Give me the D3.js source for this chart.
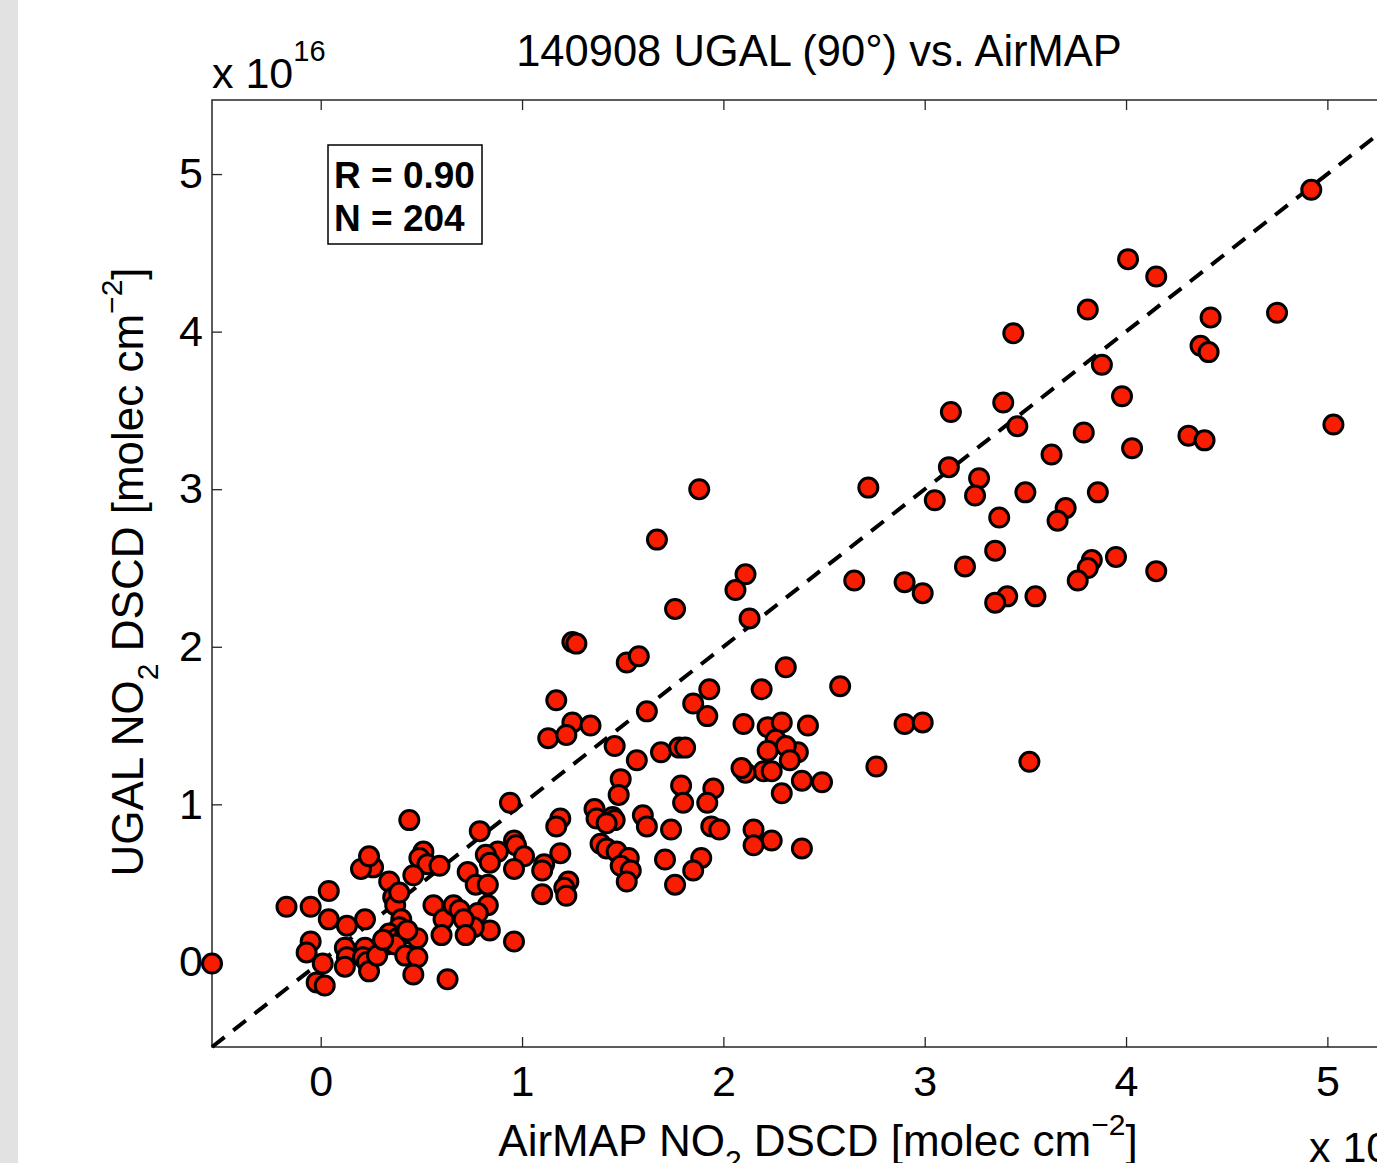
<!DOCTYPE html>
<html>

<head>
    <meta charset='utf-8'>
</head>
<style>
    body { margin: 0; background: #fff; }
    text { font-family: 'Liberation Sans', Arial, Helvetica, sans-serif; fill: #000; }
    .dot { fill: #f81c00; stroke: #000; stroke-width: 3px; }
    .axis line { stroke: #262626; stroke-width: 1.3px; }
    .axis text { font-size: 43px; }
</style>

<body>
    <div id='chart'></div>
    <script src="https://d3js.org/d3.v7.min.js"></script>
    <script>
        // values in units of 1e16 molec cm^-2
        var airmap = [4.92, 4.01, 4.15, 3.81, 4.75, 4.42, 3.44, 4.37, 4.41, 3.88,
            3.98, 3.39, 3.13, 3.46, 3.79, 5.03, 4.31, 4.39, 4.03, 3.63,
            3.12, 3.27, 2.72, 3.50, 3.25, 3.86, 3.05, 3.70, 3.66, 3.37,
            1.88, 3.35, 3.95, 3.83, 3.81, 3.76, 3.20, 4.15, 2.65, 2.90,
            2.99, 3.41, 3.35, 3.55, 1.67, 2.11, 2.06, 2.13, 1.76, 1.25,
            1.27, 1.52, 1.58, 2.31, 2.58, 2.19, 1.17, 1.93, 1.85, 1.62,
            1.92, 1.25, 1.34, 1.13, 1.22, 2.10, 2.22, 2.29, 2.42, 2.90,
            2.99, 1.46, 1.69, 1.78, 1.81, 1.57, 2.26, 2.22, 2.37, 2.31,
            2.20, 2.33, 2.11, 2.09, 2.24, 2.76, 3.52, 2.39, 2.49, 1.49,
            1.79, 2.29, 1.95, 1.80, 1.92, 0.94, 1.48, 1.36, 1.37, 1.45,
            1.60, 1.46, 1.62, 1.42, 1.74, 1.94, 1.98, 2.15, 2.24, 2.15,
            2.39, 1.39, 1.42, 1.47, 1.71, 1.89, 1.85, 1.53, 1.49, 1.54,
            1.52, 1.76, 1.19, 1.17, 1.19, 1.11, 1.10, 1.23, 1.21, 1.22,
            1.10, 0.96, 0.97, 0.88, 1.01, 0.79, 0.82, 0.84, 0.96, 0.73,
            0.77, 0.83, 0.83, 0.78, 0.84, 0.76, 0.96, 0.44, 0.51, 0.49,
            0.53, 0.59, 0.46, 0.34, 0.26, 0.20, 0.24, 0.36, 0.37, 0.56,
            0.61, 0.66, 0.69, 0.71, 0.60, 0.72, 0.04, -0.17, -0.05, 0.13,
            0.04, 0.22, 0.40, 0.39, 0.34, 0.38, 0.42, 0.33, 0.37, 0.42,
            0.48, 0.46, -0.05, -0.07, 0.12, 0.22, 0.13, 0.21, 0.23, 0.01,
            0.12, 0.24, -0.02, 0.02, 0.63, -0.54, 0.28, 0.31, 0.48, 0.39,
            0.43];

        var ugal = [4.90, 4.46, 4.35, 4.14, 4.12, 4.09, 3.99, 3.91, 3.87, 3.79,
            3.59, 3.55, 3.49, 3.40, 3.36, 3.41, 3.34, 3.31, 3.26, 3.22,
            3.14, 3.07, 3.01, 2.98, 2.96, 2.98, 2.93, 2.88, 2.80, 2.82,
            3.00, 2.61, 2.57, 2.55, 2.50, 2.42, 2.51, 2.48, 2.42, 2.41,
            2.34, 2.32, 2.28, 2.32, 2.68, 2.46, 2.36, 2.18, 2.24, 2.03,
            2.02, 1.90, 1.94, 1.87, 1.75, 1.73, 1.66, 1.73, 1.64, 1.59,
            1.56, 1.52, 1.50, 1.42, 1.44, 1.51, 1.49, 1.52, 1.50, 1.51,
            1.52, 1.37, 1.33, 1.36, 1.36, 1.28, 1.41, 1.34, 1.33, 1.37,
            1.21, 1.28, 1.20, 1.23, 1.21, 1.24, 1.27, 1.15, 1.14, 1.16,
            1.12, 1.07, 1.10, 1.01, 1.01, 1.01, 1.06, 0.97, 0.91, 0.92,
            0.93, 0.90, 0.86, 0.88, 0.84, 0.86, 0.84, 0.84, 0.77, 0.74,
            0.72, 0.75, 0.72, 0.70, 0.65, 0.66, 0.58, 0.66, 0.61, 0.58,
            0.51, 0.49, 0.91, 0.86, 0.69, 0.62, 0.58, 0.51, 0.47, 0.42,
            0.43, 0.77, 0.74, 0.70, 0.67, 0.83, 0.68, 0.63, 0.59, 0.57,
            0.49, 0.49, 0.36, 0.31, 0.20, 0.22, 0.13, 0.90, 0.70, 0.66,
            0.62, 0.61, 0.55, 0.51, 0.60, 0.59, 0.67, 0.41, 0.36, 0.36,
            0.27, 0.36, 0.33, 0.27, 0.17, 0.17, 0.45, 0.35, 0.35, 0.23,
            0.27, 0.27, 0.27, 0.22, 0.18, 0.15, 0.18, 0.11, 0.11, 0.04,
            0.03, -0.08, 0.13, 0.06, 0.09, 0.09, 0.03, 0.03, 0.00, -0.01,
            -0.03, -0.06, -0.13, -0.15, -0.11, -0.01, 0.04, 0.14, 0.15, 0.44,
            0.20];

        var axisLimits = [-0.54, 5.47];
        var tickValues = [0, 1, 2, 3, 4, 5];
        var titleText = '140908 UGAL (90\u00b0) vs. AirMAP';
        var statsLines = ['R = 0.90', 'N = 204'];

        var width = 1377;
        var height = 1163;
        var plot = { left: 212, top: 100, right: 1422, bottom: 1047 };

        var svg = d3.select('#chart').append('svg')
            .attr('width', width)
            .attr('height', height)
            .style('display', 'block');

        svg.append('rect')
            .attr('width', width).attr('height', height)
            .attr('fill', '#fff');

        // grey strip on the left edge
        svg.append('rect')
            .attr('x', 0).attr('y', 0)
            .attr('width', 18).attr('height', height)
            .attr('fill', '#e2e2e2');

        var x = d3.scaleLinear().domain(axisLimits).range([plot.left, plot.right]);
        var y = d3.scaleLinear().domain(axisLimits).range([plot.bottom, plot.top]);

        // axes with inward ticks
        var xAxis = svg.append('g')
            .attr('class', 'axis')
            .attr('transform', 'translate(0,' + plot.bottom + ')')
            .call(d3.axisBottom(x).tickValues(tickValues).tickFormat(d3.format('d'))
                .tickSize(-10).tickPadding(18));
        xAxis.select('.domain').remove();

        var xTop = svg.append('g')
            .attr('class', 'axis')
            .attr('transform', 'translate(0,' + plot.top + ')')
            .call(d3.axisTop(x).tickValues(tickValues).tickFormat('').tickSize(-10));
        xTop.select('.domain').remove();

        var yAxis = svg.append('g')
            .attr('class', 'axis')
            .attr('transform', 'translate(' + plot.left + ',0)')
            .call(d3.axisLeft(y).tickValues(tickValues).tickFormat(d3.format('d'))
                .tickSize(-10).tickPadding(9));
        yAxis.select('.domain').remove();

        svg.append('rect')
            .attr('x', plot.left).attr('y', plot.top)
            .attr('width', plot.right - plot.left)
            .attr('height', plot.bottom - plot.top)
            .attr('fill', 'none')
            .attr('stroke', '#262626')
            .attr('stroke-width', 1.5);

        // 1:1 line
        svg.append('line')
            .attr('x1', x(axisLimits[0])).attr('y1', y(axisLimits[0]))
            .attr('x2', x(axisLimits[1])).attr('y2', y(axisLimits[1]))
            .attr('stroke', '#000')
            .attr('stroke-width', 4)
            .attr('stroke-dasharray', '16,11');

        var points = d3.range(airmap.length).map(function(i) {
            return { a: airmap[i], u: ugal[i] };
        });

        svg.append('g').selectAll('circle')
            .data(points)
            .enter().append('circle')
            .attr('class', 'dot')
            .attr('cx', function(d) { return x(d.a); })
            .attr('cy', function(d) { return y(d.u); })
            .attr('r', 9.5);

        // stats box
        svg.append('rect')
            .attr('x', 328).attr('y', 145)
            .attr('width', 154).attr('height', 99)
            .attr('fill', '#fff')
            .attr('stroke', '#000')
            .attr('stroke-width', 1.5);

        svg.append('g').selectAll('text')
            .data(statsLines)
            .enter().append('text')
            .attr('x', 334)
            .attr('y', function(d, i) { return 188 + i * 43; })
            .style('font-size', '37px')
            .style('font-weight', 'bold')
            .text(function(d) { return d; });

        // title
        svg.append('text')
            .attr('x', 819).attr('y', 66)
            .attr('text-anchor', 'middle')
            .style('font-size', '43.5px')
            .text(titleText);

        // exponent labels
        function exponent(xp, yp) {
            var t = svg.append('text')
                .attr('x', xp).attr('y', yp)
                .style('font-size', '43px');
            t.append('tspan').text('x 10');
            t.append('tspan').attr('dy', -27).style('font-size', '29px').text('16');
        }
        exponent(212, 88);
        exponent(1309, 1162);

        // axis labels
        var xl = svg.append('text')
            .attr('x', 818).attr('y', 1156)
            .attr('text-anchor', 'middle')
            .style('font-size', '44px');
        xl.append('tspan').text('AirMAP NO');
        xl.append('tspan').attr('dy', 15).style('font-size', '30px').text('2');
        xl.append('tspan').attr('dy', -15).text(' DSCD [molec cm');
        xl.append('tspan').attr('dy', -21).style('font-size', '30px').text('\u22122');
        xl.append('tspan').attr('dy', 21).text(']');

        var yl = svg.append('text')
            .attr('transform', 'translate(143,572) rotate(-90)')
            .attr('text-anchor', 'middle')
            .style('font-size', '44px');
        yl.append('tspan').text('UGAL NO');
        yl.append('tspan').attr('dy', 15).style('font-size', '30px').text('2');
        yl.append('tspan').attr('dy', -15).text(' DSCD [molec cm');
        yl.append('tspan').attr('dy', -21).style('font-size', '30px').text('\u22122');
        yl.append('tspan').attr('dy', 21).text(']');
    </script>
</body>

</html>
